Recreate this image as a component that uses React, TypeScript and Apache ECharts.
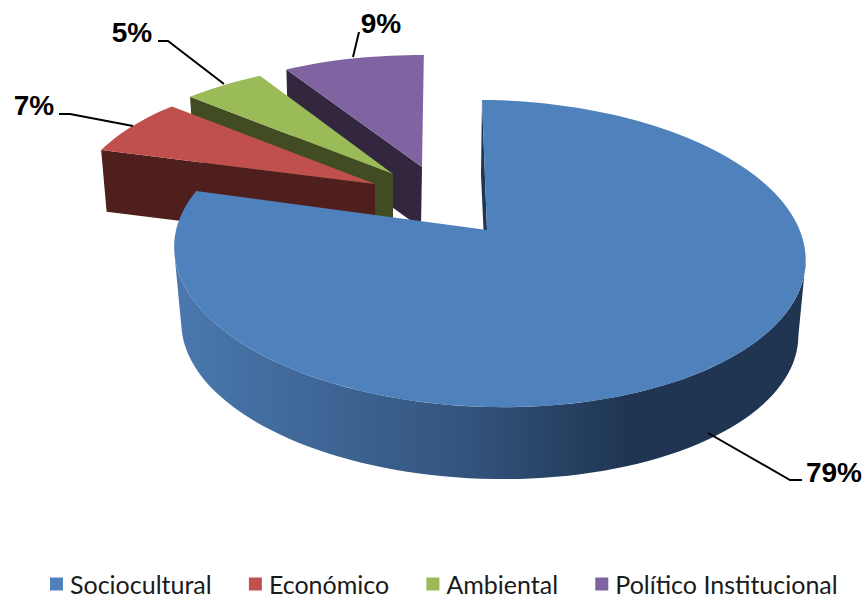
import React, { useEffect, useRef } from "react";
import * as echarts from "echarts";

const categories = ["Sociocultural", "Económico", "Ambiental", "Político Institucional"];
const shares = [79, 7, 5, 9];
const topColors = ["#4f81bd", "#c0504d", "#9bbb59", "#8064a2"];
const wallColors = ["#1f3552", "#4f1f1d", "#414c22", "#33273f"];

// Perspective of the disc (layout only)
const A = 312, B = 150, K = 0.153, M = 0.0063, S = -5.77, T = -3.5;

type Pose = { ax: number; ay: number; sx: number; sy: number; shear: number; bax: number; bay: number; sb: number };
const poses: Pose[] = [
  { ax: 487, ay: 230, sx: 1, sy: 1, shear: 0, bax: 487, bay: 306, sb: 0.977 },
  { ax: 375, ay: 184, sx: 0.954, sy: 0.87, shear: -0.105, bax: 375, bay: 245, sb: 0.98 },
  { ax: 393, ay: 174, sx: 0.965, sy: 0.865, shear: -0.139, bax: 393, bay: 235, sb: 0.98 },
  { ax: 422, ay: 167, sx: 0.93, sy: 0.86, shear: -0.058, bax: 421, bay: 228, sb: 0.98 },
];
const labelPos = [
  { x: 834, y: 472 },
  { x: 34, y: 105 },
  { x: 132, y: 32 },
  { x: 381, y: 23 },
];
const leaders = [
  [[708, 433], [790, 480], [802, 480]],
  [[59, 114], [70, 114], [133, 126]],
  [[158, 41], [168, 41], [224, 84]],
  [[359, 32], [353, 57]],
];

const rel = (deg: number) => {
  const t = (deg * Math.PI) / 180;
  const X = Math.sin(t), Y = Math.cos(t);
  const w = 1 + K * Y - M * X;
  return [(A * X + S * Y) / w, -(B * Y + T * X) / w];
};
const topPoint = (p: Pose, deg: number) => {
  const [dx, dy] = rel(deg);
  const yy = dy * p.sy;
  return [p.ax + dx * p.sx + p.shear * yy, p.ay + yy];
};
const bottomPoint = (p: Pose, deg: number) => {
  const [dx, dy] = rel(deg);
  const yy = dy * p.sy * p.sb;
  return [p.bax + dx * p.sx * p.sb + p.shear * yy, p.bay + yy];
};
const arc = (fn: (p: Pose, d: number) => number[], p: Pose, from: number, to: number) => {
  const n = Math.max(8, Math.ceil(Math.abs(to - from) / 2));
  const out: number[][] = [];
  for (let i = 0; i <= n; i++) out.push(fn(p, from + ((to - from) * i) / n));
  return out;
};

const total = shares.reduce((a, b) => a + b, 0);

const makeRender = (index: number) => (_params: any, api: any) => {
  const value = api.value(0) as number;
  const start = (shares.slice(0, index).reduce((a, b) => a + b, 0) / total) * 360;
  const end = start + (value / total) * 360;
  const p = poses[index];
  const children: any[] = [];
  const apexT = [p.ax, p.ay];
  const apexB = [p.bax, p.bay];
  if (index === 0) {
    // cut face at angle 0 and curved outer wall
    children.push({
      type: "polygon",
      shape: { points: [topPoint(p, 0), [481, 175], apexB, apexT] },
      style: { fill: wallColors[0] },
    });
    children.push({
      type: "polygon",
      shape: { points: [...arc(topPoint, p, 100, 260), ...arc(bottomPoint, p, 260, 100)] },
      style: {
        fill: {
          type: "linear", x: 0, y: 0, x2: 1, y2: 0,
          colorStops: [
            { offset: 0, color: "#4a78ae" },
            { offset: 0.45, color: "#34557f" },
            { offset: 0.72, color: "#1f3552" },
            { offset: 1, color: "#1f3552" },
          ],
        },
      },
    });
  } else {
    children.push({
      type: "polygon",
      shape: { points: [topPoint(p, start), bottomPoint(p, start), apexB, apexT] },
      style: { fill: wallColors[index] },
    });
  }
  children.push({
    type: "polygon",
    shape: { points: [apexT, ...arc(topPoint, p, start, end)] },
    style: { fill: topColors[index] },
  });
  children.push({
    type: "polyline",
    shape: { points: leaders[index] },
    style: { stroke: "#000", lineWidth: 2, fill: "none" },
  });
  children.push({
    type: "text",
    style: {
      text: `${value}%`,
      x: labelPos[index].x,
      y: labelPos[index].y,
      fill: "#000",
      fontFamily: "Liberation Sans",
      fontWeight: "bold",
      fontSize: 28,
      align: "center",
      verticalAlign: "middle",
    },
  });
  return { type: "group", children };
};

const drawOrder = [3, 2, 1, 0];

export default function App() {
  const ref = useRef<HTMLDivElement>(null);
  useEffect(() => {
    const chart = echarts.init(ref.current!, undefined, { renderer: "svg" });
    chart.setOption({
      animation: false,
      backgroundColor: "#fff",
      legend: {
        data: categories,
        left: 45,
        top: 564,
        icon: "rect",
        itemWidth: 13,
        itemHeight: 13,
        itemGap: 37.2,
        selectedMode: false,
        textStyle: { fontFamily: "Lato", fontSize: 25, lineHeight: 30, height: 30, color: "#1a1a1a", padding: [0, 0, 0, 2] },
      },
      series: drawOrder.map((i, order) => ({
        type: "custom",
        name: categories[i],
        coordinateSystem: "none",
        z: order + 1,
        silent: true,
        clip: false,
        itemStyle: { color: topColors[i] },
        data: [[shares[i]]],
        renderItem: makeRender(i),
      })),
    });
    return () => chart.dispose();
  }, []);
  return <div ref={ref} style={{ position: "absolute", left: 0, top: 0, width: 866, height: 598 }} />;
}
